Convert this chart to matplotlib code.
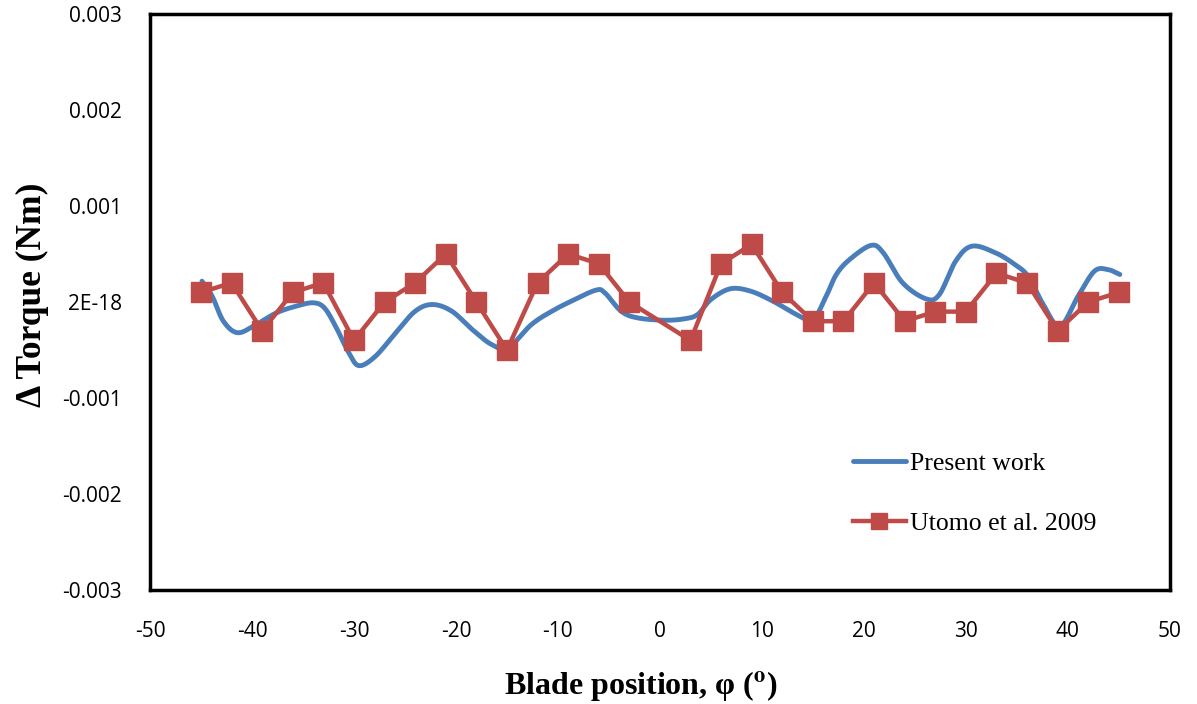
import matplotlib.pyplot as plt
import numpy as np

plt.rcParams['axes.unicode_minus'] = False
plt.rcParams['mathtext.fontset'] = 'stix'

# Utomo et al. 2009 (no point at 0 deg)
utomo_x = [-45, -42, -39, -36, -33, -30, -27, -24, -21, -18, -15, -12, -9, -6, -3,
           3, 6, 9, 12, 15, 18, 21, 24, 27, 30, 33, 36, 39, 42, 45]
utomo_y = [0.0001, 0.0002, -0.0003, 0.0001, 0.0002, -0.0004, 0.0, 0.0002, 0.0005, 0.0,
           -0.0005, 0.0002, 0.0005, 0.0004, 0.0, -0.0004, 0.0004, 0.0006, 0.0001, -0.0002,
           -0.0002, 0.0002, -0.0002, -0.0001, -0.0001, 0.0003, 0.0002, -0.0003, 0.0, 0.0001]

# present work
present_x = [-44.9, -43.9, -42.8, -41.4, -39.6, -37.6, -35.7, -34.0, -32.9, -31.8,
             -30.5, -29.5, -27.9, -25.9, -24.0, -22.3, -20.4, -18.4, -16.5, -14.9,
             -12.6, -10.6, -8.7, -6.3, -5.4, -3.8, -2.2, 0.4, 2.4, 3.7,
             5.0, 6.9, 8.9, 11.1, 13.4, 15.0, 16.3, 17.3, 18.6, 20.7,
             21.9, 23.8, 26.1, 27.4, 29.0, 30.6, 32.9, 34.8, 36.1, 37.5,
             39.2, 41.0, 42.6, 43.9, 45.1]
present_y = [0.000217, 0.00006, -0.0002, -0.00032, -0.000235, -0.000113, -0.000044, -0.000008, -0.000061, -0.000253,
             -0.00053, -0.000663, -0.000566, -0.00032, -0.000096, -0.000026, -0.000096, -0.000287, -0.000443, -0.000478,
             -0.000235, -0.000096, 0.000008, 0.000123, 0.000096, -0.000096, -0.000165, -0.00019, -0.000175, -0.00013,
             0.000026, 0.000138, 0.000113, 0.000008, -0.00013, -0.000183, 0.00006, 0.000287, 0.000443, 0.00059,
             0.000513, 0.0002, 0.000033, 0.000078, 0.000426, 0.000582, 0.000513, 0.000391, 0.000269, -0.000008,
             -0.000253, 0.00006, 0.000321, 0.000339, 0.000287]

yticks = [-0.003, -0.002, -0.001, 0.0, 0.001, 0.002, 0.003]
ytick_labels = ["-0.003", "-0.002", "-0.001", "2E-18", "0.001", "0.002", "0.003"]
xticks = [-50, -40, -30, -20, -10, 0, 10, 20, 30, 40, 50]


def smooth_line(x, y, n=20):
    # catmull-rom, like excel's smoothed line
    x = np.asarray(x); y = np.asarray(y)
    px = np.concatenate([[2*x[0]-x[1]], x, [2*x[-1]-x[-2]]])
    py = np.concatenate([[2*y[0]-y[1]], y, [2*y[-1]-y[-2]]])
    xs, ys = [], []
    t = np.linspace(0, 1, n, endpoint=False)
    for i in range(1, len(px)-2):
        for arr, out in ((px, xs), (py, ys)):
            p0, p1, p2, p3 = arr[i-1], arr[i], arr[i+1], arr[i+2]
            out.extend(0.5*((2*p1) + (-p0+p2)*t + (2*p0-5*p1+4*p2-p3)*t**2 + (-p0+3*p1-3*p2+p3)*t**3))
    xs.append(x[-1]); ys.append(y[-1])
    return np.array(xs), np.array(ys)


fig = plt.figure(figsize=(11.97, 7.04), dpi=100)
ax = fig.add_axes([0.1253, 0.162, 0.852, 0.818])

sx, sy = smooth_line(present_x, present_y)
ax.plot(sx, sy, color="#4A7EBB", lw=3.5, label="Present work", solid_capstyle="round")
ax.plot(utomo_x, utomo_y, color="#BE4B48", lw=3.2, marker="s", markersize=15,
        label="Utomo et al. 2009")

ax.set_xlim(-50, 50)
ax.set_ylim(-0.003, 0.003)
ax.set_xticks(xticks)
ax.set_xticklabels([str(v) for v in xticks])
ax.set_yticks(yticks)
ax.set_yticklabels(ytick_labels)
ax.tick_params(length=0, labelsize=15)
ax.tick_params(axis="x", pad=22)
ax.tick_params(axis="y", pad=20)
for lab in ax.get_xticklabels() + ax.get_yticklabels():
    lab.set_fontfamily("Open Sans")

for s in ax.spines.values():
    s.set_linewidth(2.5)
    s.set_color("black")

ax.set_xlabel("Blade position, φ ($^{\\mathbf{o}}$)", fontfamily="Liberation Serif",
              fontweight="bold", fontsize=23)
ax.set_ylabel("Δ Torque (Nm)", fontfamily="Liberation Serif", fontweight="bold",
              fontsize=25.5)
ax.xaxis.set_label_coords(0.481, -0.138)
ax.yaxis.set_label_coords(-0.099, 0.512)

leg = ax.legend(loc="upper left", bbox_to_anchor=(0.679, 0.257), frameon=False,
                prop={"family": "Liberation Serif", "size": 18.5},
                handlelength=2.06, handletextpad=0.15, labelspacing=1.42,
                markerscale=0.8, borderaxespad=0)

fig.savefig("out.png", dpi=100)
